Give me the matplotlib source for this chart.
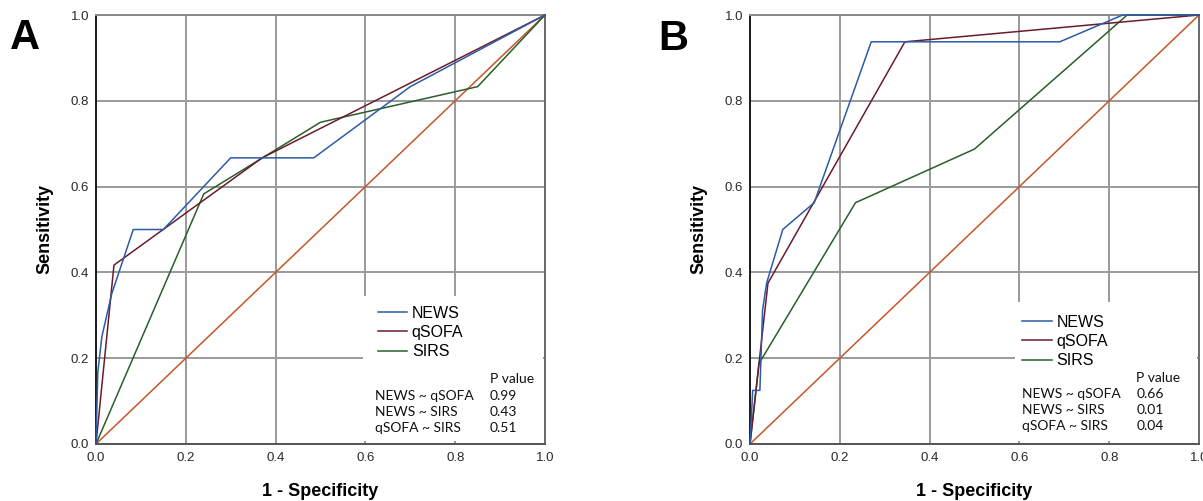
import matplotlib
matplotlib.use("Agg")
import matplotlib.pyplot as plt
from matplotlib.patches import Rectangle

# ---- panel A data (1 - specificity, sensitivity) ----
a_news_x = [0, 0.004, 0.013, 0.035, 0.083, 0.15, 0.30, 0.485, 0.70, 1.0]
a_news_y = [0, 0.167, 0.25, 0.35, 0.50, 0.50, 0.667, 0.667, 0.833, 1.0]
a_qsofa_x = [0, 0.04, 0.37, 1.0]
a_qsofa_y = [0, 0.417, 0.667, 1.0]
a_sirs_x = [0, 0.24, 0.50, 0.85, 1.0]
a_sirs_y = [0, 0.583, 0.75, 0.833, 1.0]
a_pvals = ["0.99", "0.43", "0.51"]

# ---- panel B data ----
b_news_x = [0, 0.006, 0.022, 0.028, 0.037, 0.073, 0.143, 0.27, 0.69, 0.83, 1.0]
b_news_y = [0, 0.125, 0.125, 0.3125, 0.375, 0.50, 0.5625, 0.9375, 0.9375, 1.0, 1.0]
b_qsofa_x = [0, 0.04, 0.345, 1.0]
b_qsofa_y = [0, 0.375, 0.9375, 1.0]
b_sirs_x = [0, 0.02, 0.235, 0.50, 0.84, 1.0]
b_sirs_y = [0, 0.1875, 0.5625, 0.6875, 1.0, 1.0]
b_pvals = ["0.66", "0.01", "0.04"]

comparisons = ["NEWS ~ qSOFA", "NEWS ~ SIRS", "qSOFA ~ SIRS"]
ref_line = [0, 1]
ticks = [0.0, 0.2, 0.4, 0.6, 0.8, 1.0]

c_news = "#2b5ca8"
c_qsofa = "#6a1c2c"
c_sirs = "#2a5e2a"
c_ref = "#c4572a"

W, H = 1203, 501
fig = plt.figure(figsize=(W / 100, H / 100), dpi=100)


def panel(left_px, news, qsofa, sirs, pvals, box, leg_xy, tab_x, tab_y):
    ax = fig.add_axes([left_px / W, 57 / H, 449 / W, 429 / H])
    ax.set_xlim(0, 1)
    ax.set_ylim(0, 1)
    ax.set_axisbelow(True)
    ax.grid(True, color="#9a9a9a", lw=1.4)
    ax.set_xticks(ticks)
    ax.set_yticks(ticks)
    ax.set_xticklabels(["%.1f" % t for t in ticks])
    ax.set_yticklabels(["%.1f" % t for t in ticks])
    ax.tick_params(length=0, labelsize=9.5, labelcolor="#2a2a2a", pad=6)
    ax.tick_params(axis="y", pad=5)
    for lab in ax.get_xticklabels() + ax.get_yticklabels():
        lab.set_family("Liberation Sans")
    ax.spines["left"].set_color("#1a1a1a")
    ax.spines["bottom"].set_color("#555555")
    ax.spines["top"].set_color("#8a8a8a")
    ax.spines["right"].set_color("#6a6a6a")
    for s in ax.spines.values():
        s.set_linewidth(1.4)

    # white box behind legend / p-value table
    ax.add_patch(Rectangle((box[0], 0.008), 0.995 - box[0], box[1] - 0.008,
                           facecolor="white", edgecolor="none", zorder=1))

    ax.plot(ref_line, ref_line, color=c_ref, lw=1.1, zorder=2)
    ax.plot(sirs[0], sirs[1], color=c_sirs, lw=1.1, zorder=3, label="SIRS", clip_on=False)
    ax.plot(qsofa[0], qsofa[1], color=c_qsofa, lw=1.1, zorder=4, label="qSOFA", clip_on=False)
    ax.plot(news[0], news[1], color=c_news, lw=1.1, zorder=5, label="NEWS", clip_on=False)

    h, l = ax.get_legend_handles_labels()
    order = [2, 1, 0]
    ax.legend([h[i] for i in order], [l[i] for i in order], loc="upper left",
              bbox_to_anchor=leg_xy, frameon=False, borderpad=0, borderaxespad=0,
              handlelength=1.85, handletextpad=0.3, labelspacing=0.26,
              prop={"family": "Liberation Sans", "size": 11.5})

    ax.text(tab_x[1], tab_y[0], "P value", fontsize=10, family="Lato",
            color="#111111", va="center", zorder=6)
    for i in range(3):
        ax.text(tab_x[0], tab_y[i + 1], comparisons[i], fontsize=10, family="Lato",
                color="#111111", va="center", zorder=6)
        ax.text(tab_x[1], tab_y[i + 1], pvals[i], fontsize=10, family="Lato",
                color="#111111", va="center", zorder=6)

    fig.text((left_px + 224.5) / W, 1 - 491 / H, "1 - Specificity", ha="center",
             va="center", fontsize=13, fontweight="bold", family="Liberation Sans")
    fig.text((left_px - 51) / W, 1 - 229 / H, "Sensitivity", ha="center",
             va="center", rotation=90, fontsize=13, fontweight="bold",
             family="Liberation Sans")
    return ax


panel(96, (a_news_x, a_news_y), (a_qsofa_x, a_qsofa_y), (a_sirs_x, a_sirs_y),
      a_pvals, (0.594, 0.345), (0.627, 0.322), (0.621, 0.877),
      [0.151, 0.112, 0.075, 0.037])
panel(750, (b_news_x, b_news_y), (b_qsofa_x, b_qsofa_y), (b_sirs_x, b_sirs_y),
      b_pvals, (0.59, 0.33), (0.606, 0.301), (0.606, 0.86),
      [0.154, 0.117, 0.079, 0.042])

fig.text(25 / W, 1 - 38 / H, "A", ha="center", va="center", fontsize=30,
         fontweight="bold", family="Liberation Sans")
fig.text(673 / W, 1 - 39 / H, "B", ha="center", va="center", fontsize=30,
         fontweight="bold", family="Liberation Sans")

fig.savefig("out.png", dpi=100)
